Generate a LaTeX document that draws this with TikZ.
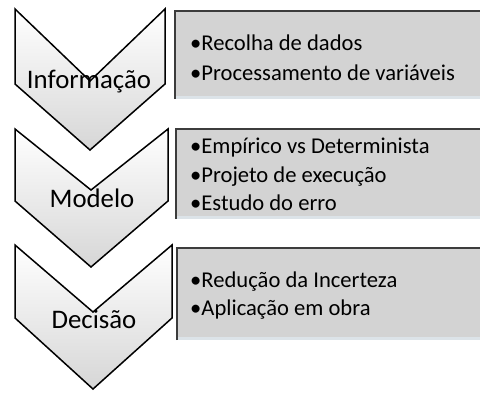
\documentclass[tikz,border=0pt]{standalone}
\usepackage{fontspec}
\setmainfont{Carlito}
\definecolor{boxgrey}{HTML}{D3D3D3}
\definecolor{boxedge}{HTML}{3C3C3C}
\definecolor{boxlight}{HTML}{DCE3E8}
\begin{document}
\begin{tikzpicture}[x=1pt,y=-1pt,
  chev/.style={draw=black,line width=1.5pt,line join=miter,shading=axis,top color=white,middle color=white,bottom color=black!16},
  lbl/.style={font=\fontsize{26.8}{30}\selectfont,inner sep=0pt,anchor=base},
  boxbody/.style={fill=boxgrey},
  boxrim/.style={draw=boxedge,line width=1.8pt},
  boxlow/.style={fill=boxlight},
  item/.style={font=\fontsize{22.6}{26}\selectfont,anchor=base west,inner sep=0pt}]
\useasboundingbox (0,0) rectangle (480,392);
% chevrons
\path[chev] (15,9) -- (90,81) -- (165,9) -- (165,84) -- (90,150) -- (15,84) -- cycle;
\path[chev] (15,129) -- (91,190) -- (168,129) -- (168,201) -- (91,267) -- (15,201) -- cycle;
\path[chev] (15,245) -- (93,312) -- (172,245) -- (172,318) -- (93,389) -- (15,318) -- cycle;
\node[lbl] (info) at (89,88) {Informação};
\node[lbl] (modelo) at (92,207) {Modelo};
\node[lbl] (decisao) at (94,328) {Decisão};
% boxes
\foreach \t/\b/\l in {11/99/175,129/219/176,248/340/177}{
  \fill[boxbody] (\l,\t) rectangle (480,\b);
  \fill[boxlow] (\l,\b-3) rectangle (480,\b);
  \draw[boxrim] (\l,\b) -- (\l,\t) -- (480,\t);
}
\node[item] (i1) at (190,50) {•Recolha de dados};
\node[item] (i2) at (190,80) {•Processamento de variáveis};
\node[item] (m1) at (190,153) {•Empírico vs Determinista};
\node[item] (m2) at (190,182) {•Projeto de execução};
\node[item] (m3) at (190,210) {•Estudo do erro};
\node[item] (d1) at (190,287) {•Redução da Incerteza};
\node[item] (d2) at (190,315) {•Aplicação em obra};
\end{tikzpicture}
\end{document}
